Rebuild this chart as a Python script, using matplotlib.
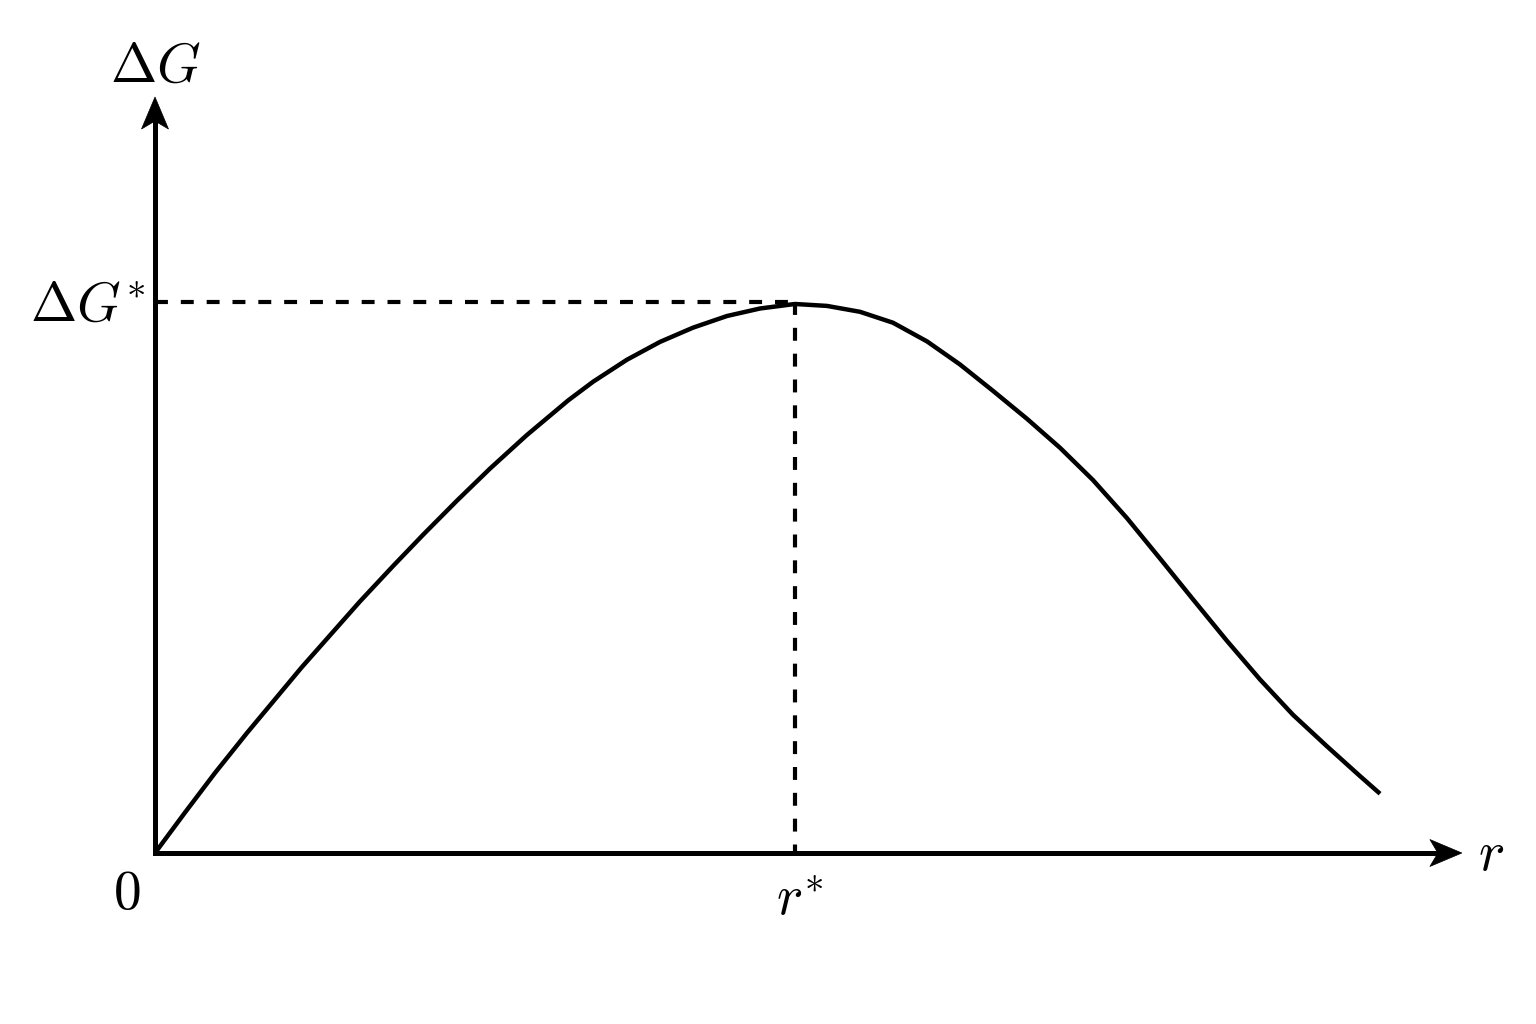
import numpy as np
import matplotlib
matplotlib.use("Agg")
import matplotlib.pyplot as plt
from matplotlib.patches import Polygon
from matplotlib.transforms import IdentityTransform

plt.rcParams['mathtext.fontset'] = 'cm'
plt.rcParams['font.family'] = ['DejaVu Serif']

# Curve, in units of r* (x) and ΔG* (y)
r_vals = [0.0000, 0.0469, 0.0938, 0.1438, 0.2292, 0.3203, 0.3723, 0.4192,
          0.4714, 0.5234, 0.5808, 0.6458, 0.6844, 0.7375, 0.7891, 0.8406,
          0.8938, 0.9453, 1.0000, 1.0500, 1.1016, 1.1531, 1.2063, 1.2578,
          1.3094, 1.3625, 1.4141, 1.4656, 1.5188, 1.5703, 1.6219, 1.6750,
          1.7266, 1.7781, 1.8313, 1.8828, 1.9141]
g_vals = [0.0000, 0.0735, 0.1454, 0.2180, 0.3370, 0.4566, 0.5212, 0.5779,
          0.6390, 0.6976, 0.7583, 0.8216, 0.8552, 0.8953, 0.9276, 0.9534,
          0.9746, 0.9882, 0.9964, 0.9929, 0.9822, 0.9624, 0.9285, 0.8866,
          0.8387, 0.7880, 0.7354, 0.6768, 0.6076, 0.5345, 0.4603, 0.3849,
          0.3149, 0.2508, 0.1935, 0.1396, 0.1076]

r_star = 1.0
g_star = 1.0
x_axis_end = 2.042
y_axis_end = 1.372

labels = {
    'yaxis': r'$\Delta G$',
    'gstar': r'$\Delta G^{*}$',
    'zero': r'$0$',
    'rstar': r'$r^{*}$',
    'xaxis': r'$r$',
}

fig = plt.figure(figsize=(15.36, 10.24), dpi=100)
ax = fig.add_axes([0, 0, 1, 1])
ax.set_xlim(-155 / 640, (1536 - 155) / 640)
ax.set_ylim(-(1024 - 853) / 551, 853 / 551)
ax.axis('off')

lw_axis = 3.6
# axes
ax.plot([0, x_axis_end - 0.03], [0, 0], color='black', lw=lw_axis,
        solid_capstyle='projecting', zorder=3)
ax.plot([0, 0], [0, y_axis_end - 0.04], color='black', lw=lw_axis,
        solid_capstyle='projecting', zorder=3)

# dashed guides
ax.plot([0, r_star], [g_star, g_star], color='black', lw=3.0,
        dashes=(3.1, 3.1), zorder=2)
ax.plot([r_star, r_star], [g_star, 0], color='black', lw=3.0,
        dashes=(3.1, 3.1), zorder=2)

# curve
ax.plot(r_vals, g_vals, color='black', lw=3.2, solid_joinstyle='round',
        solid_capstyle='butt', zorder=4)

# arrowheads (stealth-like), drawn in pixel space
fig.canvas.draw()
def arrowhead(tip_data, direction):
    tx, ty = ax.transData.transform(tip_data)
    L, W, N = 32, 13.5, 24
    pts = np.array([[0, 0], [-L, W], [-N, 0], [-L, -W]], dtype=float)
    if direction == 'up':
        pts = np.column_stack([-pts[:, 1], pts[:, 0]])
    pts[:, 0] += tx
    pts[:, 1] += ty
    p = Polygon(pts, closed=True, facecolor='black', edgecolor='black',
                lw=0.5, transform=IdentityTransform(), clip_on=False, zorder=5)
    fig.add_artist(p)

arrowhead((x_axis_end, 0), 'right')
arrowhead((0, y_axis_end), 'up')

fs = 40
ax.text(0, 1.399, labels['yaxis'], fontsize=fs, ha='center', va='baseline')
ax.text(-0.014, 0.9655, labels['gstar'], fontsize=fs, ha='right', va='baseline')
ax.text(-0.044, -0.102, labels['zero'], fontsize=fs, ha='center', va='baseline')
ax.text(1.008, -0.1125, labels['rstar'], fontsize=fs, ha='center', va='baseline')
ax.text(2.067, -0.0309, labels['xaxis'], fontsize=fs, ha='left', va='baseline')

fig.savefig('out.png', dpi=100, facecolor='white')
